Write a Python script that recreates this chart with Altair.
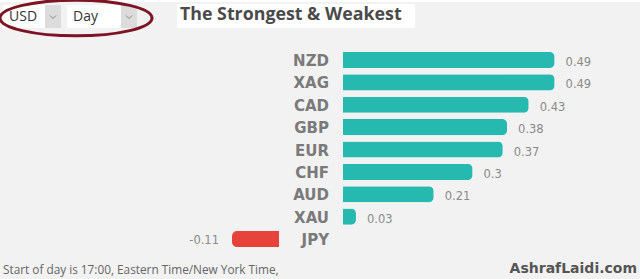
import altair as alt
import pandas as pd

categories = ["NZD", "XAG", "CAD", "GBP", "EUR", "CHF", "AUD", "XAU", "JPY"]
values = [0.49, 0.49, 0.43, 0.38, 0.37, 0.30, 0.21, 0.03, -0.11]
value_labels = ["0.49", "0.49", "0.43", "0.38", "0.37", "0.3", "0.21", "0.03", "-0.11"]

title_text = "The Strongest & Weakest"
footer_text = "Start of day is 17:00, Eastern Time/New York Time,"
brand_text = "AshrafLaidi.com"
currency_choice = "USD"
period_choice = "Day"

df = pd.DataFrame({"cat": categories, "val": values, "lbl": value_labels})
pos_df = df[df.val >= 0]
neg_df = df[df.val < 0]

W, H = 640, 279
TEAL = "#26b9b0"
RED = "#e8433a"

yscale = alt.Scale(domain=categories, range=[48.8, 250.2], paddingInner=0.28, paddingOuter=0.14)
y_enc = alt.Y("cat:N", scale=yscale, axis=None, sort=categories)

pos_x = alt.X("val:Q", scale=alt.Scale(domain=[0, 1], range=[343, 343 + 431.8], nice=False, zero=False), axis=None)
neg_x = alt.X("val:Q", scale=alt.Scale(domain=[-0.11, 0], range=[232, 279], nice=False, zero=False), axis=None)

pos_bars = alt.Chart(pos_df).mark_bar(color=TEAL, cornerRadiusTopRight=5,
                                      cornerRadiusBottomRight=5).encode(x=pos_x, y=y_enc)
pos_text = alt.Chart(pos_df).mark_text(align="left", baseline="middle", dx=11, dy=3,
                                        font="DejaVu Sans", fontSize=11.5, color="#8a8a8a").encode(
    x=pos_x, y=y_enc, text="lbl:N")
neg_bars = alt.Chart(neg_df).mark_bar(color=RED, cornerRadiusTopLeft=5,
                                      cornerRadiusBottomLeft=5).encode(x=neg_x, y=y_enc)
neg_text = alt.Chart(neg_df).mark_text(align="right", baseline="middle", dx=-13, dy=2,
                                        font="DejaVu Sans", fontSize=11.5, color="#8a8a8a").encode(
    x=neg_x, y=y_enc, text="lbl:N")

cat_text = alt.Chart(df).mark_text(align="right", baseline="middle", dy=1,
                                   font="DejaVu Sans", fontWeight="bold", fontSize=15, color="#7a7a7a").encode(
    x=alt.value(329), y=y_enc, text="cat:N")

one = pd.DataFrame({"a": [0]})

def rect(x1, x2, y1, y2, color):
    return alt.Chart(one).mark_rect(color=color).encode(
        x=alt.value(x1), x2=alt.value(x2), y=alt.value(y1), y2=alt.value(y2))

def label(txt, x, y, **kw):
    return alt.Chart(one).mark_text(**kw).encode(x=alt.value(x), y=alt.value(y), text=alt.value(txt))

top_line = rect(0, W, 0, 2, "#ffffff")
title_box = rect(177, 415, 4, 28, "#ffffff")
title = label(title_text, 180, 15, align="left", baseline="middle", font="Open Sans",
              fontWeight="bold", fontSize=17.8, color="#4a4a4a")

usd_box = rect(3, 45, 5, 28, "#ffffff")
usd_arrow_box = rect(45, 61, 5, 28, "#dcdcdc")
day_box = rect(67, 121, 5, 28, "#ffffff")
day_arrow_box = rect(121, 137, 5, 28, "#dcdcdc")
usd_txt = label(currency_choice, 9, 17, align="left", baseline="middle", font="Open Sans",
                fontSize=14, color="#333333")
day_txt = label(period_choice, 73, 17, align="left", baseline="middle", font="Open Sans",
                fontSize=14, color="#333333")
chev = "M-1,-0.5 L0,0.5 L1,-0.5"
arrows = alt.Chart(pd.DataFrame({"x": [53, 129]})).mark_point(
    shape=chev, size=36, filled=False, strokeWidth=1, color="#666666").encode(
    x=alt.X("x:Q", scale=alt.Scale(domain=[0, W], range=[0, W], nice=False, zero=False), axis=None),
    y=alt.value(17))

ellipse_path = "M-1,0 A1,0.235 0 1,0 1,0 A1,0.235 0 1,0 -1,0"
ellipse = alt.Chart(one).mark_point(shape=ellipse_path, size=152 * 152, filled=False,
                                    strokeWidth=3, color="#7d1424", opacity=1).encode(
    x=alt.value(76), y=alt.value(18))

footer = label(footer_text, 3, 270, align="left", baseline="middle", font="Open Sans",
               fontSize=11.8, color="#666666")
brand = label(brand_text, 637, 269, align="right", baseline="middle", font="DejaVu Sans",
              fontWeight="bold", fontSize=14, color="#555555")

chart = alt.layer(
    top_line, title_box, title, usd_box, usd_arrow_box, day_box, day_arrow_box,
    usd_txt, day_txt, ellipse, footer, brand, cat_text,
    alt.layer(pos_bars, pos_text), alt.layer(neg_bars, neg_text), arrows,
).resolve_scale(x="independent").properties(
    width=W, height=H, padding=0, autosize=alt.AutoSizeParams(type="none"),
    background="#f2f2f2"
).configure_view(stroke=None)

chart.save("out.html", embed_options={"renderer": "svg", "actions": False})
